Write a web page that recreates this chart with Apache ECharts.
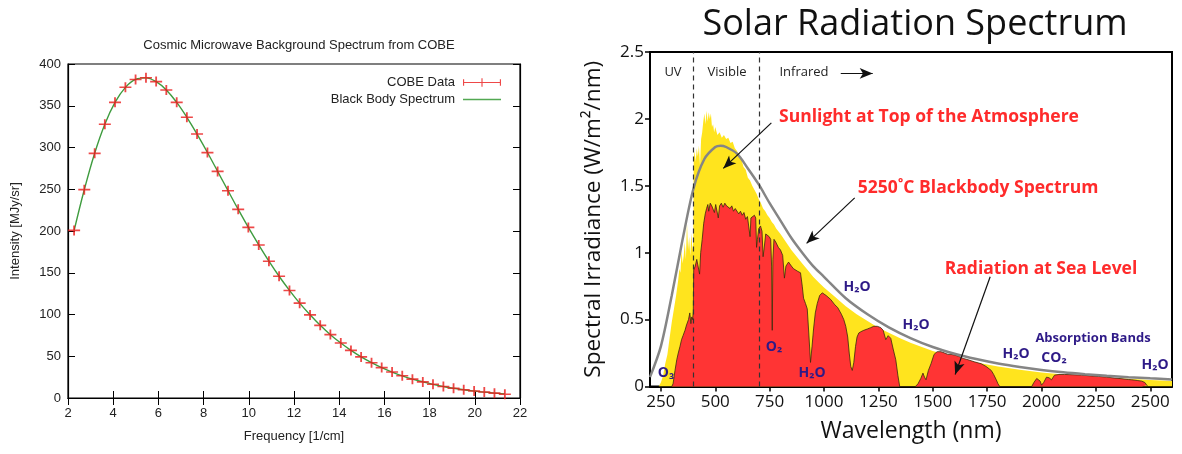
<!DOCTYPE html>
<html>
<head>
<meta charset="utf-8">
<script src="https://cdn.jsdelivr.net/npm/echarts@6/dist/echarts.min.js"></script>
<style>
  html, body { margin: 0; background: #fff; }
  #chart { width: 1182px; height: 454px; }
</style>
</head>
<body>
<div id="chart"></div>
<script>
// ---- left panel: COBE FIRAS spectrum ----
const freq = [2.27, 2.72, 3.18, 3.63, 4.08, 4.54, 4.99, 5.45, 5.90, 6.35, 6.81, 7.26, 7.71, 8.17, 8.62,
  9.08, 9.53, 9.98, 10.44, 10.89, 11.34, 11.80, 12.25, 12.71, 13.16, 13.61, 14.07, 14.52, 14.97, 15.43,
  15.88, 16.34, 16.79, 17.24, 17.70, 18.15, 18.61, 19.06, 19.51, 19.97, 20.42, 20.87, 21.33]
const cobeIntensity = [200.7, 249.5, 293.0, 327.8, 354.1, 372.1, 381.5, 383.5, 378.9, 368.8, 354.1, 336.3,
  316.1, 293.9, 271.4, 248.2, 225.9, 204.3, 183.3, 163.8, 145.8, 128.8, 113.6, 99.5, 87.0, 75.9, 65.8,
  57.0, 49.2, 42.3, 36.4, 31.1, 26.6, 22.6, 19.3, 16.4, 13.8, 11.7, 9.9, 8.4, 7.1, 5.8, 4.5]
const blackBody = [200.5, 249.4, 293.2, 327.9, 354.0, 372.0, 381.6, 383.4, 378.8, 368.9, 354.0, 336.2,
  316.0, 294.0, 271.5, 248.3, 225.9, 204.3, 183.4, 163.9, 145.8, 128.9, 113.6, 99.6, 87.0, 75.8, 65.8,
  57.0, 49.3, 42.4, 36.4, 31.1, 26.5, 22.6, 19.3, 16.3, 13.8, 11.7, 9.9, 8.4, 7.0, 5.9, 4.9]

// ---- right panel: solar spectrum (wavelength nm / W per m2 per nm) ----
const toaNm = [240, 250, 260, 270, 280, 290, 300, 310, 320, 330, 335, 340, 345, 350, 355, 360, 365, 370,
  375, 380, 385, 390, 395, 399, 401, 405, 410, 415, 420, 425, 430, 435, 440, 445, 450, 455, 460, 465, 470,
  475, 480, 485, 490, 495, 500, 510, 520, 530, 540, 550, 560, 570, 580, 590, 600, 610, 620, 630, 640, 650,
  660, 670, 680, 690, 700, 710, 720, 730, 740, 750, 760, 770, 780, 790, 800, 825, 850, 875, 900, 925, 950,
  975, 1000, 1050, 1100, 1150, 1200, 1250, 1300, 1350, 1400, 1450, 1500, 1600, 1700, 1800, 1900, 2000,
  2100, 2200, 2300, 2400, 2500, 2600]
const toaIrr = [0, 0.03, 0.08, 0.17, 0.24, 0.36, 0.48, 0.58, 0.68, 0.80, 0.88, 0.85, 1.02, 0.92, 0.98, 1.08,
  0.95, 1.22, 1.02, 1.12, 0.98, 1.15, 1.02, 1.08, 1.70, 1.76, 1.68, 1.78, 1.72, 1.80, 1.65, 1.85, 1.90, 1.98,
  2.04, 1.96, 2.06, 1.98, 2.05, 2.00, 2.04, 1.94, 1.96, 1.90, 1.94, 1.88, 1.90, 1.86, 1.88, 1.85, 1.86, 1.82,
  1.83, 1.78, 1.76, 1.72, 1.70, 1.64, 1.62, 1.56, 1.54, 1.50, 1.47, 1.44, 1.40, 1.37, 1.33, 1.31, 1.28, 1.26,
  1.23, 1.21, 1.18, 1.16, 1.14, 1.08, 1.02, 0.97, 0.92, 0.87, 0.82, 0.78, 0.74, 0.67, 0.60, 0.54, 0.49, 0.44,
  0.40, 0.36, 0.325, 0.295, 0.265, 0.22, 0.18, 0.15, 0.125, 0.105, 0.09, 0.077, 0.066, 0.057, 0.049, 0.042]

const seaNm = [300, 306, 315, 323, 330, 338, 345, 352, 361, 368, 377, 383, 388, 392, 396, 399, 401, 408, 415,
  422, 428, 433, 440, 447, 454, 460, 466, 470, 477, 484, 490, 496, 502, 508, 514, 520, 528, 536, 544, 552,
  560, 568, 576, 584, 592, 600, 608, 616, 624, 632, 640, 648, 656, 660, 664, 672, 680, 686, 690, 694, 700,
  708, 715, 720, 726, 732, 740, 748, 755, 759, 762, 765, 770, 778, 790, 800, 810, 818, 825, 837, 850, 860,
  869, 880, 892, 900, 906, 915, 923, 930, 938, 945, 952, 960, 969, 980, 992, 1010, 1031, 1050, 1063, 1080,
  1091, 1100, 1109, 1116, 1123, 1130, 1137, 1145, 1152, 1160, 1170, 1183, 1200, 1215, 1229, 1245, 1261,
  1272, 1284, 1295, 1307, 1318, 1330, 1340, 1348, 1420, 1432, 1445, 1455, 1462, 1469, 1480, 1492, 1506,
  1520, 1538, 1555, 1570, 1584, 1600, 1620, 1640, 1662, 1690, 1723, 1745, 1769, 1780, 1792, 1800, 1808,
  1955, 1965, 1978, 1986, 1994, 2000, 2010, 2023, 2035, 2046, 2060, 2080, 2106, 2140, 2184, 2220, 2263,
  2300, 2337, 2370, 2400, 2415, 2440, 2461, 2475, 2484, 2490]
const seaIrr = [0, 0.02, 0.12, 0.20, 0.25, 0.30, 0.35, 0.38, 0.42, 0.46, 0.50, 0.55, 0.47, 0.52, 0.50, 0.56,
  0.87, 0.90, 0.95, 0.96, 0.84, 1.00, 1.10, 1.22, 1.29, 1.33, 1.36, 1.31, 1.37, 1.35, 1.36, 1.30, 1.36, 1.35,
  1.26, 1.35, 1.37, 1.34, 1.37, 1.35, 1.36, 1.33, 1.35, 1.31, 1.33, 1.32, 1.29, 1.31, 1.28, 1.30, 1.25, 1.27,
  1.26, 1.12, 1.26, 1.27, 1.28, 1.26, 1.04, 1.10, 1.18, 1.20, 1.16, 0.97, 1.05, 1.14, 1.13, 1.12, 1.10, 0.90,
  0.42, 0.95, 1.10, 1.08, 1.04, 1.02, 0.98, 0.81, 0.90, 0.93, 0.90, 0.88, 0.89, 0.86, 0.85, 0.75, 0.66, 0.62,
  0.58, 0.40, 0.18, 0.30, 0.43, 0.55, 0.62, 0.68, 0.70, 0.68, 0.65, 0.61, 0.59, 0.54, 0.50, 0.45, 0.37, 0.25,
  0.15, 0.12, 0.18, 0.30, 0.37, 0.40, 0.41, 0.42, 0.43, 0.44, 0.45, 0.45, 0.44, 0.42, 0.35, 0.38, 0.36, 0.28,
  0.20, 0.08, 0, 0, 0.02, 0.06, 0.10, 0.07, 0.05, 0.12, 0.17, 0.24, 0.26, 0.26, 0.25, 0.24, 0.24, 0.235,
  0.225, 0.21, 0.20, 0.185, 0.17, 0.15, 0.12, 0.09, 0.05, 0.02, 0, 0, 0.03, 0.06, 0.07, 0.04, 0.01, 0.03,
  0.07, 0.065, 0.05, 0.085, 0.09, 0.09, 0.088, 0.085, 0.08, 0.075, 0.07, 0.063, 0.058, 0.052, 0.05, 0.045,
  0.04, 0.03, 0.01, 0]

const bbNm = [200, 250, 300, 350, 400, 450, 500, 525, 550, 600, 650, 700, 750, 800, 850, 900, 950, 1000,
  1100, 1200, 1300, 1400, 1500, 1600, 1700, 1800, 1900, 2000, 2100, 2200, 2300, 2400, 2500, 2600]
const bbIrr = [0.07, 0.30, 0.68, 1.10, 1.48, 1.70, 1.79, 1.80, 1.79, 1.74, 1.63, 1.51, 1.37, 1.24, 1.11,
  1.00, 0.90, 0.82, 0.66, 0.54, 0.44, 0.36, 0.295, 0.245, 0.205, 0.172, 0.146, 0.124, 0.106, 0.092, 0.080,
  0.070, 0.061, 0.053]

const wavelengthTicks = [250, 500, 750, 1000, 1250, 1500, 1750, 2000, 2250, 2500]
const bandEdges = [400, 700]

const pairs = (xs, ys) => xs.map((x, i) => [x, ys[i]])

const chart = echarts.init(document.getElementById('chart'))

const gpFont = 'Liberation Sans'
const solarFont = 'Open Sans'
const purple = '#2e1a87'
const annRed = '#ff2b2b'
const plusPath = 'path://M0,4.2H10V5.8H0Z M4.25,0H5.75V10H4.25Z'
const errIcon = 'path://M0,4.4H40V5.6H0Z M19.4,0.5H20.6V9.5H19.4Z M0,1.5H1.2V8.5H0Z M38.8,1.5H40V8.5H38.8Z'
const lineIcon = 'path://M0,4.3H40V5.7H0Z'

// 标注箭头 (data coords)
const arrow = (a, b) => [{ coord: a }, { coord: b }]

function bandLabel(text, x, y, size) {
  return { type: 'text', x: x, y: y, z: 50,
    style: { text: text, fill: purple, font: 'bold ' + (size || 14) + 'px "' + solarFont + '"', align: 'center', verticalAlign: 'middle' } }
}
function redLabel(text, x, y) {
  return { type: 'text', x: x, y: y, z: 50,
    style: { text: text, fill: annRed, font: 'bold 17.5px "' + solarFont + '"', align: 'center', verticalAlign: 'middle' } }
}
function darkLabel(text, x, y) {
  return { type: 'text', x: x, y: y, z: 50,
    style: { text: text, fill: '#222', font: '13px "' + solarFont + '"', align: 'center', verticalAlign: 'middle' } }
}

chart.setOption({
  animation: false,
  title: [
    { text: 'Cosmic Microwave Background Spectrum from COBE', left: 294, top: 34, textAlign: 'center',
      textStyle: { fontFamily: gpFont, fontSize: 13, fontWeight: 'normal', color: '#222' } },
    { text: 'Solar Radiation Spectrum', left: 910, top: 2, textAlign: 'center',
      textStyle: { fontFamily: solarFont, fontSize: 36, fontWeight: 'normal', color: '#111' } }
  ],
  legend: {
    data: [{ name: 'COBE Data', icon: errIcon }, { name: 'Black Body Spectrum', icon: lineIcon }],
    orient: 'vertical', align: 'right', right: 676, top: 71,
    itemWidth: 38, itemHeight: 9, itemGap: 4,
    textStyle: { fontFamily: gpFont, fontSize: 13, color: '#222', padding: [0, 3, 0, 0] }
  },
  grid: [
    { left: 68, top: 64, width: 452, height: 334, show: true, borderColor: '#000', borderWidth: 1.2 },
    { left: 650, top: 52, width: 522, height: 334.5, show: true, borderColor: '#000', borderWidth: 2 }
  ],
  xAxis: [
    { type: 'value', gridIndex: 0, min: 2, max: 22, interval: 2,
      name: 'Frequency [1/cm]', nameLocation: 'middle', nameGap: 32,
      nameTextStyle: { fontFamily: gpFont, fontSize: 13, color: '#222' },
      axisLine: { lineStyle: { color: '#000', width: 1.2 } },
      axisTick: { inside: true, length: 7, lineStyle: { color: '#000' } },
      axisLabel: { fontFamily: gpFont, fontSize: 13, color: '#222', margin: 9 },
      splitLine: { show: false } },
    { type: 'value', gridIndex: 0, position: 'top', min: 2, max: 22, interval: 2,
      axisLine: { lineStyle: { color: '#000', width: 1.2 } },
      axisTick: { inside: true, length: 7, lineStyle: { color: '#000' } },
      axisLabel: { show: false }, splitLine: { show: false } },
    { type: 'value', gridIndex: 1, min: 200, max: 2600,
      name: 'Wavelength (nm)', nameLocation: 'middle', nameGap: 33,
      nameTextStyle: { fontFamily: solarFont, fontSize: 23, color: '#111' },
      axisLine: { lineStyle: { color: '#000', width: 2 } },
      axisTick: { length: 5, customValues: wavelengthTicks, lineStyle: { color: '#000', width: 1.5 } },
      axisLabel: { customValues: wavelengthTicks, formatter: v => String(v),
        fontFamily: solarFont, fontSize: 17, color: '#111', margin: 7 },
      splitLine: { show: false } }
  ],
  yAxis: [
    { type: 'value', gridIndex: 0, min: 0, max: 400, interval: 50,
      name: 'Intensity [MJy/sr]', nameLocation: 'middle', nameGap: 46,
      nameTextStyle: { fontFamily: gpFont, fontSize: 13, color: '#222' },
      axisLine: { show: true, lineStyle: { color: '#000', width: 1.2 } },
      axisTick: { show: true, inside: true, length: 7, lineStyle: { color: '#000' } },
      axisLabel: { fontFamily: gpFont, fontSize: 13, color: '#222', margin: 7 },
      splitLine: { show: false } },
    { type: 'value', gridIndex: 0, position: 'right', min: 0, max: 400, interval: 50,
      axisLine: { show: true, lineStyle: { color: '#000', width: 1.2 } },
      axisTick: { show: true, inside: true, length: 7, lineStyle: { color: '#000' } },
      axisLabel: { show: false }, splitLine: { show: false } },
    { type: 'value', gridIndex: 1, min: 0, max: 2.5, interval: 0.5,
      name: 'Spectral Irradiance (W/m\u00b2/nm)', nameLocation: 'middle', nameGap: 45,
      nameTextStyle: { fontFamily: solarFont, fontSize: 22.5, color: '#111' },
      axisLine: { show: true, lineStyle: { color: '#000', width: 2 } },
      axisTick: { show: true, length: 5, lineStyle: { color: '#000', width: 1.5 } },
      axisLabel: { fontFamily: solarFont, fontSize: 17, color: '#111', margin: 6 },
      splitLine: { show: false } }
  ],
  series: [
    {
      name: 'COBE Data', type: 'scatter', xAxisIndex: 0, yAxisIndex: 0, z: 4,
      symbol: plusPath, symbolSize: [12, 10],
      itemStyle: { color: '#ea1a1a' },
      data: pairs(freq, cobeIntensity)
    },
    {
      name: 'Black Body Spectrum', type: 'line', xAxisIndex: 0, yAxisIndex: 0, z: 3,
      smooth: 0.4, showSymbol: false, symbol: 'none',
      lineStyle: { color: '#3f9c3f', width: 1.4 }, itemStyle: { color: '#52a852' },
      data: pairs(freq, blackBody)
    },
    {
      name: 'Sunlight at Top of the Atmosphere', type: 'line', xAxisIndex: 2, yAxisIndex: 2, z: 2,
      symbol: 'none', lineStyle: { width: 0 }, areaStyle: { color: '#ffe41e', opacity: 1 },
      data: pairs(toaNm, toaIrr)
    },
    {
      name: 'Radiation at Sea Level', type: 'line', xAxisIndex: 2, yAxisIndex: 2, z: 3,
      symbol: 'none', lineStyle: { color: '#3a2a0c', width: 0.8 }, areaStyle: { color: '#ff3434', opacity: 1 },
      data: pairs(seaNm, seaIrr)
    },
    {
      name: '5250\u02daC Blackbody Spectrum', type: 'line', xAxisIndex: 2, yAxisIndex: 2, z: 4,
      smooth: 0.3, symbol: 'none', lineStyle: { color: '#858585', width: 2.5 },
      data: pairs(bbNm, bbIrr),
      markLine: {
        silent: true, symbol: ['none', 'none'], label: { show: false },
        lineStyle: { color: '#333', type: [5, 4], width: 1.2 },
        data: bandEdges.map(v => ({ xAxis: v }))
      }
    },
    {
      // 箭头
      name: 'arrows', type: 'line', xAxisIndex: 2, yAxisIndex: 2, z: 6, data: [],
      markLine: {
        silent: true, symbol: ['none', 'arrow'], symbolSize: [8, 13], label: { show: false },
        lineStyle: { color: '#111', type: 'solid', width: 1.2 },
        data: [
          arrow([758, 1.97], [537, 1.63]),
          arrow([1141, 1.41], [920, 1.07]),
          arrow([1764, 0.82], [1603, 0.09]),
          arrow([1077, 2.34], [1224, 2.34])
        ]
      }
    }
  ],
  graphic: [
    darkLabel('UV', 673, 72),
    darkLabel('Visible', 727, 72),
    darkLabel('Infrared', 804, 72),
    redLabel('Sunlight at Top of the Atmosphere', 929, 117),
    redLabel('5250\u02daC Blackbody Spectrum', 978, 188),
    redLabel('Radiation at Sea Level', 1041, 269),
    bandLabel('O\u2083', 666, 373),
    bandLabel('O\u2082', 774, 347),
    bandLabel('H\u2082O', 812, 373),
    bandLabel('H\u2082O', 857, 287),
    bandLabel('H\u2082O', 916, 325),
    bandLabel('H\u2082O', 1016, 354),
    bandLabel('CO\u2082', 1054, 358),
    bandLabel('H\u2082O', 1155, 365),
    bandLabel('Absorption Bands', 1093, 338, 13)
  ]
})
</script>
</body>
</html>
